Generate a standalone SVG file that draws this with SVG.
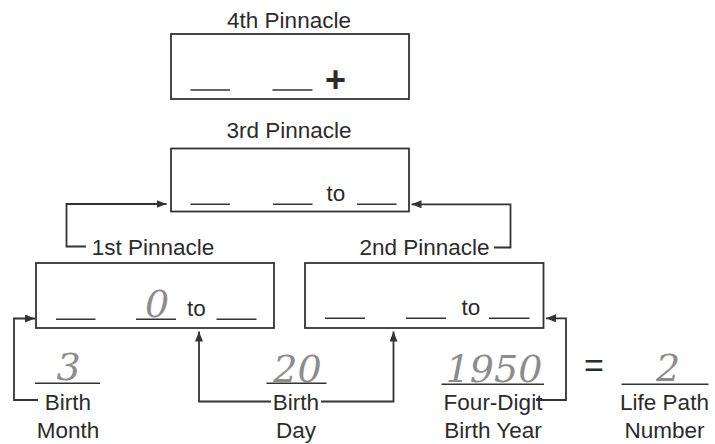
<svg xmlns="http://www.w3.org/2000/svg" width="715" height="444" viewBox="0 0 715 444">
<style>
.bg{fill:#fff}
.box{fill:#fff;stroke:#333;stroke-width:1.8}
.blank{stroke:#333;stroke-width:1.5}
.lbl{font-family:"Liberation Sans",Arial,sans-serif;font-size:22.5px;fill:#2b2b2b;text-anchor:middle}
.dig{font-family:"DejaVu Serif",serif;font-style:italic;font-size:38px;fill:#8c8c8c;text-anchor:middle}
.conn{fill:none;stroke:#333;stroke-width:1.8}
</style>
<defs>
<marker id="ah" markerUnits="userSpaceOnUse" markerWidth="11" markerHeight="8" refX="10" refY="4" orient="auto">
<path d="M0,0 L10,4 L0,8 z" fill="#333"/>
</marker>
</defs>
<rect class="bg" x="0" y="0" width="715" height="444"/>

<g id="pinnacle4">
<text class="lbl" x="289" y="27.5">4th Pinnacle</text>
<rect class="box" x="171" y="34" width="238" height="65"/>
<line class="blank" x1="190.5" y1="90" x2="230" y2="90"/>
<line class="blank" x1="272.5" y1="90" x2="312.5" y2="90"/>
<text x="335.5" y="92" style="font-family:'Liberation Sans',Arial,sans-serif;font-size:36px;font-weight:bold;fill:#2b2b2b;text-anchor:middle">+</text>
</g>

<g id="pinnacle3">
<text class="lbl" x="289" y="138">3rd Pinnacle</text>
<rect class="box" x="171" y="148.5" width="238" height="63"/>
<line class="blank" x1="190.5" y1="204.3" x2="230" y2="204.3"/>
<line class="blank" x1="273" y1="204.3" x2="312.5" y2="204.3"/>
<text class="lbl" x="336" y="201">to</text>
<line class="blank" x1="357" y1="204.3" x2="396.5" y2="204.3"/>
</g>

<g id="pinnacle1">
<text class="lbl" x="153" y="254.5">1st Pinnacle</text>
<rect class="box" x="36" y="263" width="238" height="65"/>
<line class="blank" x1="56" y1="319.3" x2="95.5" y2="319.3"/>
<line class="blank" x1="136" y1="319.3" x2="176" y2="319.3"/>
<text class="dig" x="157" y="317">0</text>
<text class="lbl" x="196.5" y="316">to</text>
<line class="blank" x1="216.5" y1="319.3" x2="256.5" y2="319.3"/>
</g>

<g id="pinnacle2">
<text class="lbl" x="424.5" y="254.5">2nd Pinnacle</text>
<rect class="box" x="305" y="263" width="238.5" height="65"/>
<line class="blank" x1="325" y1="318.3" x2="365" y2="318.3"/>
<line class="blank" x1="406" y1="318.3" x2="446" y2="318.3"/>
<text class="lbl" x="471" y="315">to</text>
<line class="blank" x1="489" y1="318.3" x2="529.5" y2="318.3"/>
</g>

<g id="birth-month">
<text class="dig" x="68.5" y="380">3</text>
<line class="blank" x1="35" y1="383.3" x2="100" y2="383.3"/>
<text class="lbl" x="68" y="410">Birth</text>
<text class="lbl" x="68" y="438">Month</text>
</g>

<g id="birth-day">
<text class="dig" x="297.5" y="381.5">20</text>
<line class="blank" x1="266.5" y1="383.3" x2="326.5" y2="383.3"/>
<text class="lbl" x="296" y="410">Birth</text>
<text class="lbl" x="296" y="438">Day</text>
</g>

<g id="birth-year">
<text class="dig" x="494" y="382">1950</text>
<line class="blank" x1="441.5" y1="384.3" x2="544" y2="384.3"/>
<text class="lbl" x="493" y="410">Four-Digit</text>
<text class="lbl" x="493" y="438">Birth Year</text>
</g>

<g id="equals">
<text x="594" y="377" style="font-family:'Liberation Sans',Arial,sans-serif;font-size:34px;fill:#2b2b2b;text-anchor:middle">=</text>
</g>

<g id="life-path">
<text class="dig" x="668" y="381">2</text>
<line class="blank" x1="621.5" y1="384.3" x2="708.5" y2="384.3"/>
<text class="lbl" x="664.5" y="410">Life Path</text>
<text class="lbl" x="664.5" y="438">Number</text>
</g>

<g id="connectors">
<path class="conn" d="M38,400 H14 V318.5 H35" marker-end="url(#ah)"/>
<path class="conn" d="M271,401.5 H199 V331.5" marker-end="url(#ah)"/>
<path class="conn" d="M321,401.5 H393.5 V331.5" marker-end="url(#ah)"/>
<path class="conn" d="M536,400 H566 V318.3 H546" marker-end="url(#ah)"/>
<path class="conn" d="M86,246.5 H66.5 V204 H166.5" marker-end="url(#ah)"/>
<path class="conn" d="M494,247.5 H510.5 V204.3 H411.5" marker-end="url(#ah)"/>
</g>
</svg>
